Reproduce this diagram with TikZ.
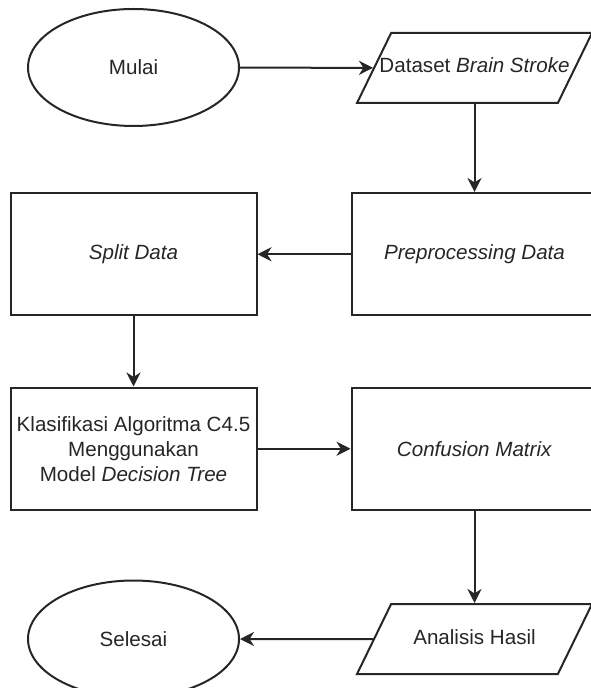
\documentclass[tikz,border=0pt]{standalone}
\usepackage{fontspec}
\setmainfont{Liberation Sans}
\usetikzlibrary{positioning,arrows.meta,shapes.geometric}

\begin{document}
\begin{tikzpicture}[
  node distance=35pt and 46.5pt,
  every node/.style={font=\fontsize{10.3}{12.5}\selectfont, text=black!85},
  term/.style={draw=black!85, line width=1pt, ellipse, minimum width=105.5pt,
               minimum height=58.5pt, inner sep=0pt},
  io/.style={draw=black!85, line width=1pt, trapezium, trapezium left angle=64,
             trapezium right angle=116, trapezium stretches body=true,
             minimum width=117.5pt, text height=7.5pt, text depth=2.5pt,
             inner xsep=0pt, inner ysep=12.5pt},
  blk/.style={draw=black!85, line width=1pt, align=center, minimum width=123pt,
              minimum height=61.25pt, inner sep=0pt},
  arr/.style={-{Stealth[length=7pt, width=7pt, inset=2.2pt]}, line width=1pt, draw=black!85}
]
\useasboundingbox (0,0) rectangle (295pt,-344pt);
\node[term] (mulai) at (66.75pt,-33.75pt) {Mulai};
\node[blk, below=32.5pt of mulai] (split) {\textit{Split Data}};
\node[blk, right=46.5pt of split] (prep) {\textit{Preprocessing Data}};
\node[io, above=44pt of prep] (dataset) {\makebox[0pt]{Dataset \textit{Brain Stroke}}};
\node[blk, below=35pt of split] (klas) {Klasifikasi Algoritma C4.5\\Menggunakan\\Model \textit{Decision Tree}};
\node[blk, right=46.5pt of klas] (conf) {\textit{Confusion Matrix}};
\node[io, below=46pt of conf] (hasil) {\makebox[0pt]{Analisis Hasil}};
\node[term, below=34.25pt of klas] (selesai) {Selesai};
\draw[arr] (mulai) -- (dataset);
\draw[arr] (dataset.south) -- (prep.north);
\draw[arr] (prep) -- (split);
\draw[arr] (split) -- (klas);
\draw[arr] (klas) -- (conf);
\draw[arr] (conf.south) -- (hasil.north);
\draw[arr] (hasil) -- (selesai);
\end{tikzpicture}
\end{document}
